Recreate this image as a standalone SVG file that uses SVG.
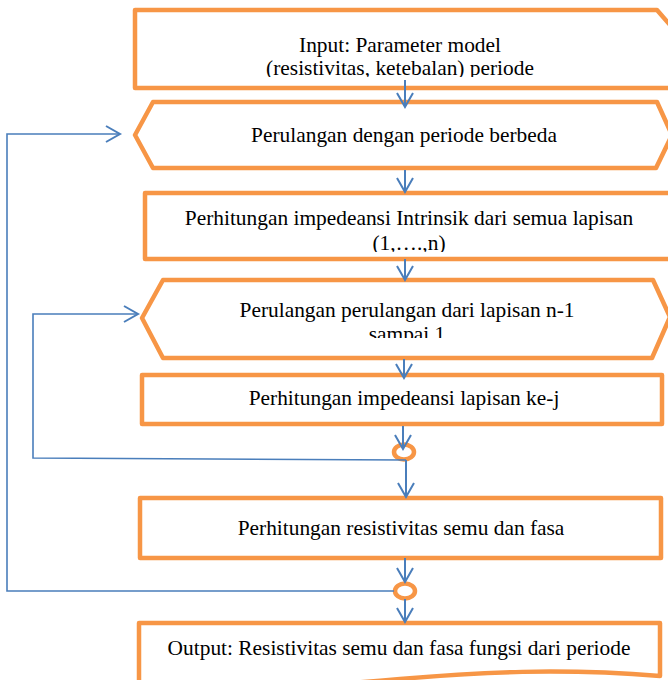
<svg xmlns="http://www.w3.org/2000/svg" width="668" height="680" viewBox="0 0 668 680">
<style>
.box{fill:#fff;stroke:#F79646;stroke-width:4.5;stroke-linejoin:round}
.t{font-family:"Liberation Serif","Times New Roman",serif;font-size:21.4px;fill:#000;text-anchor:middle}
.c{fill:none;stroke:#4A7EBB;stroke-width:2}
.l{fill:none;stroke:#4A7EBB;stroke-width:1.6}
</style>
<defs>
<marker id="ah" viewBox="-16 -10 18 20" refX="0" refY="0" markerWidth="18" markerHeight="20" markerUnits="userSpaceOnUse" orient="auto" overflow="visible">
<path d="M-14,-8 L0,0 L-14,8" fill="none" stroke="#4A7EBB" stroke-width="2"/>
</marker>
<clipPath id="cp1"><rect x="0" y="0" width="668" height="77"/></clipPath>
<clipPath id="cp3"><rect x="0" y="0" width="668" height="252"/></clipPath>
<clipPath id="cp4"><rect x="0" y="0" width="668" height="338"/></clipPath>
</defs>
<rect width="668" height="680" fill="#fff"/>
<g id="n1">
<path class="box" d="M685,42 L657,10 L135,10 L135,88 L690,88"/>
<text class="t" x="400" y="52">Input: Parameter model</text>
<text class="t" x="400" y="75" clip-path="url(#cp1)">(resistivitas, ketebalan) periode</text>
</g>
<g id="n2">
<polygon class="box" points="135,135 153,102 657,102 672,135 656,168 153,168"/>
<text class="t" x="404" y="142">Perulangan dengan periode berbeda</text>
</g>
<g id="n3">
<rect class="box" x="145" y="193" width="560" height="66"/>
<text class="t" x="409" y="225">Perhitungan impedeansi Intrinsik dari semua lapisan</text>
<text class="t" x="409" y="250" clip-path="url(#cp3)">(1,….,n)</text>
</g>
<g id="n4">
<polygon class="box" points="142,318 163,280 653,280 670,317 652,358 163,358"/>
<text class="t" x="407" y="317">Perulangan perulangan dari lapisan n-1</text>
<text class="t" x="407" y="341" clip-path="url(#cp4)">sampai 1</text>
</g>
<g id="n5">
<rect class="box" x="142" y="375" width="520" height="49"/>
<text class="t" x="404" y="405">Perhitungan impedeansi lapisan ke-j</text>
</g>
<g id="j1">
<ellipse class="box" cx="404" cy="452" rx="10" ry="7.5" fill="none"/>
</g>
<g id="n6">
<rect class="box" x="140" y="498" width="521" height="60"/>
<text class="t" x="401" y="535">Perhitungan resistivitas semu dan fasa</text>
</g>
<g id="j2">
<ellipse class="box" cx="405" cy="591" rx="10" ry="7.5" fill="none"/>
</g>
<g id="n7">
<path class="box" d="M139,690 L139,623 L660,623 L660,676 C560,668 480,672 400,679 C320,686 220,692 139,690 Z"/>
<text class="t" x="399" y="655">Output: Resistivitas semu dan fasa fungsi dari periode</text>
</g>
<g id="connectors">
<path class="c" d="M405,80 V107" marker-end="url(#ah)"/>
<path class="c" d="M405,170 V192" marker-end="url(#ah)"/>
<path class="c" d="M405,259 V280" marker-end="url(#ah)"/>
<path class="c" d="M404,359 V378" marker-end="url(#ah)"/>
<path class="c" d="M403,426 V449" marker-end="url(#ah)"/>
<path class="l" d="M406,460 L33,458 V314 H138" marker-end="url(#ah)"/>
<path class="c" d="M406,460 V497" marker-end="url(#ah)"/>
<path class="c" d="M405,558 V582" marker-end="url(#ah)"/>
<path class="l" d="M394,591 H7 V134 H120" marker-end="url(#ah)"/>
<path class="c" d="M405,599 V622" marker-end="url(#ah)"/>
</g>
</svg>
